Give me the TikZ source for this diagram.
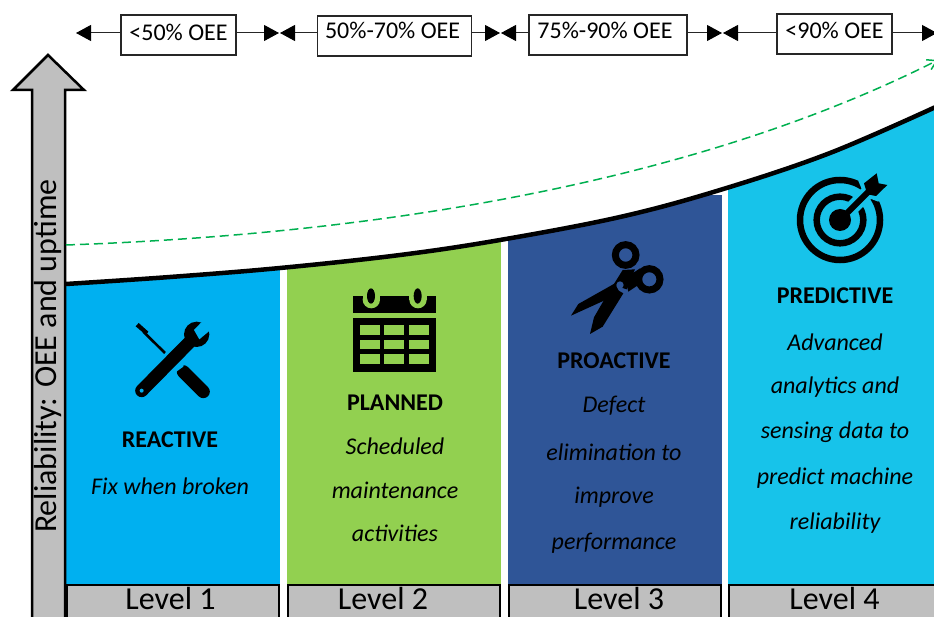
\documentclass[tikz,border=0pt]{standalone}
\usepackage{fontspec}
\setmainfont{Carlito}
\usetikzlibrary{arrows.meta}
\definecolor{colA}{HTML}{00B0F0}
\definecolor{colB}{HTML}{92D050}
\definecolor{colC}{HTML}{2F5597}
\definecolor{colD}{HTML}{17C3EA}
\definecolor{greyfill}{HTML}{BFBFBF}
\definecolor{dashgreen}{HTML}{00B050}
\tikzset{
  x=1pt,y=-1pt,
  oeebox/.style={draw=black!85,line width=1.1pt,fill=white,font=\fontsize{24}{28}\selectfont,inner sep=0pt,text height=16pt,text depth=0pt,minimum height=40pt},
  oeearrow/.style={-{Triangle[length=15pt,width=16pt,fill=black,color=black]},line width=1pt,draw=black!85},
  levelbox/.style={draw=black,line width=2pt,fill=greyfill,minimum height=41pt,inner sep=0pt},
  leveltext/.style={font=\fontsize{32}{34}\selectfont,inner sep=0pt},
  headtext/.style={font=\fontsize{24}{26}\selectfont\bfseries,inner sep=0pt,text=black},
  desctext/.style={font=\fontsize{24}{26}\selectfont\itshape,inner sep=0pt,text=black},
  icon/.style={scale=1/3},
}
\begin{document}
\begin{tikzpicture}
\clip (0,0) rectangle (934,617);
\fill[white] (0,0) rectangle (934,617);

% coloured columns under the curve
\begin{scope}
\clip (66,600) -- plot[smooth,tension=.6] coordinates {(66,284) (170,277) (280,268) (400,255) (500,240) (620,217) (720,190) (830,153) (934,108)} -- (934,600) -- cycle;
\fill[colA] (66,250) rectangle (280,584);
\fill[colB] (287,220) rectangle (501,584);
\fill[colC] (508,195) rectangle (722,584);
\fill[colD] (728,100) rectangle (940,584);
\end{scope}

% curve
\draw[line width=4.5pt,black] plot[smooth,tension=.6] coordinates {(66,284) (170,277) (280,268) (400,255) (500,240) (620,217) (720,190) (830,153) (940,105)};

% level boxes
\node[levelbox,minimum width=212pt,anchor=north west] (L1) at (66,584) {};
\node[levelbox,minimum width=212pt,anchor=north west] (L2) at (287,584) {};
\node[levelbox,minimum width=212pt,anchor=north west] (L3) at (508,584) {};
\node[levelbox,minimum width=212pt,anchor=north west] (L4) at (728,584) {};
\node[leveltext] (T1) at (170.5,598) {Level 1};
\node[leveltext] (T2) at (383,598) {Level 2};
\node[leveltext] (T3) at (619,598) {Level 3};
\node[leveltext] (T4) at (834.5,598) {Level 4};

% vertical arrow
\draw[line width=2.5pt,fill=greyfill,line join=miter] (32,630) -- (32,90) -- (13,90) -- (48,55) -- (84,90) -- (65,90) -- (65,630) -- cycle;
\node[rotate=90,font=\fontsize{32}{34}\selectfont,inner sep=0pt] (axis) at (48,356) {Reliability: OEE and uptime};

% dashed green curve
\coordinate (gs) at (66,245);
\coordinate (ge) at (938,60);
\draw[dashgreen,line width=1.5pt,dash pattern=on 9pt off 5pt,-{Straight Barb[length=9pt,width=11pt]}] (gs) .. controls (350,235) and (680,190) .. (ge);

% OEE range boxes
\node[oeebox,minimum width=115pt] (b1) at (178.5,35) {\raisebox{2.5pt}{<50\% OEE}};
\node[oeebox,minimum width=154pt,anchor=west] (b2) at (317,36) {\raisebox{5pt}{\hspace*{-4pt}50\%-70\% OEE}};
\node[oeebox,minimum width=158pt] (b3) at (608,35) {\raisebox{4pt}{75\%-90\% OEE}\hspace*{6pt}};
\node[oeebox,minimum width=115pt] (b4) at (834.5,34) {\raisebox{3pt}{<90\% OEE}};
\coordinate (a0) at (76,33);
\coordinate (a1) at (279,33);
\coordinate (a2) at (280,33);
\coordinate (a3) at (500,33);
\coordinate (a4) at (501,33);
\coordinate (a5) at (722,33);
\coordinate (a6) at (723,33);
\coordinate (a7) at (937,33);
\draw[oeearrow] (b1.west |- a0) -- (a0);
\draw[oeearrow] (b1.east |- a1) -- (a1);
\draw[oeearrow] (b2.west |- a2) -- (a2);
\draw[oeearrow] (b2.east |- a3) -- (a3);
\draw[oeearrow] (b3.west |- a4) -- (a4);
\draw[oeearrow] (b3.east |- a5) -- (a5);
\draw[oeearrow] (b4.west |- a6) -- (a6);
\draw[oeearrow] (b4.east |- a7) -- (a7);

% column texts
\node[headtext] (h1) at (170,440) {REACTIVE};
\node[desctext] (d1a) at (170,486) {Fix when broken};

\node[headtext] (h2) at (395,403) {PLANNED};
\node[desctext] (d2a) at (395,446) {Scheduled};
\node[desctext] (d2b) at (395,490) {maintenance};
\node[desctext] (d2c) at (395,533) {activities};

\node[headtext] (h3) at (614,361) {PROACTIVE};
\node[desctext] (d3a) at (614,406) {Defect};
\node[desctext] (d3b) at (614,452) {elimination to};
\node[desctext] (d3c) at (614,497) {improve};
\node[desctext] (d3d) at (614,543) {performance};

\node[headtext] (h4) at (835,296) {PREDICTIVE};
\node[desctext] (d4a) at (835,342) {Advanced};
\node[desctext] (d4b) at (835,387) {analytics and};
\node[desctext] (d4c) at (835,432) {sensing data to};
\node[desctext] (d4d) at (835,478) {predict machine};
\node[desctext] (d4e) at (835,523) {reliability};

% tools icon
\begin{scope}[shift={(120,280)},icon]
\fill (47,139) -- (56,129) -- (85,155) -- (78,165) -- cycle;
\draw[line width=2.6pt] (70,155) -- (135,219);
\draw[line width=13pt,line cap=round] (250,335) -- (190,275);
\fill[colA] (150,265) -- (200,215) -- (190,260) -- (165,278) -- cycle;
\draw[line width=13pt,line cap=round] (65,332) -- (215,180);
\fill (230,163) circle[radius=38];
\fill[colA] (243,128) -- (222,150) -- (238,178) -- (268,153) -- (285,110) -- cycle;
\fill[colA] (65,332) circle[radius=6];
\end{scope}

% calendar icon
\begin{scope}[shift={(340,280)},icon]
\fill (38,48) rectangle (288,98);
\fill[colB] (68,30) rectangle (120,60);
\fill[colB] (208,30) rectangle (260,60);
\fill[colB] (94,59) circle[radius=26];
\fill[colB] (234,59) circle[radius=26];
\fill (93,48) ellipse[x radius=12,y radius=23];
\fill (233,48) ellipse[x radius=12,y radius=23];
\fill (38,114) rectangle (288,275);
\foreach \cx in {60,133,207}
  \foreach \cy/\ch in {135/30,180/28,223/30}
    \fill[colB] (\cx,\cy) rectangle ++(60,\ch);
\end{scope}

% scissors icon
\begin{scope}[shift={(560,230)},icon]
\fill (33,257) -- (55,222) -- (165,160) -- (180,190) -- cycle;
\fill (90,312) -- (102,262) -- (155,170) -- (190,190) -- (128,290) -- cycle;
\fill (160,165) -- (188,120) -- (225,118) -- (200,178) -- cycle;
\fill (195,145) -- (240,115) -- (235,165) -- (205,185) -- cycle;
\draw[line width=7pt,fill=colC] (197,75) circle[radius=31];
\draw[line width=7pt,fill=colC] (268,148) circle[radius=32];
\fill[colC] (180,165) circle[radius=11];
\end{scope}

% target icon
\begin{scope}[shift={(780,165)},icon]
\draw[line width=6.5pt] (180,165) circle[radius=120];
\draw[line width=6.5pt] (180,165) circle[radius=70];
\fill (180,165) circle[radius=33];
\draw[colD,line width=14pt] (205,140) -- (290,55);
\fill[colD] (235,48) -- (290,10) -- (335,60) -- (295,110) -- (255,95) -- cycle;
\draw[line width=6pt] (185,160) -- (265,80);
\fill (252,55) -- (290,25) -- (296,55) -- (322,60) -- (288,93) -- (262,88) -- cycle;
\end{scope}
\end{tikzpicture}
\end{document}
